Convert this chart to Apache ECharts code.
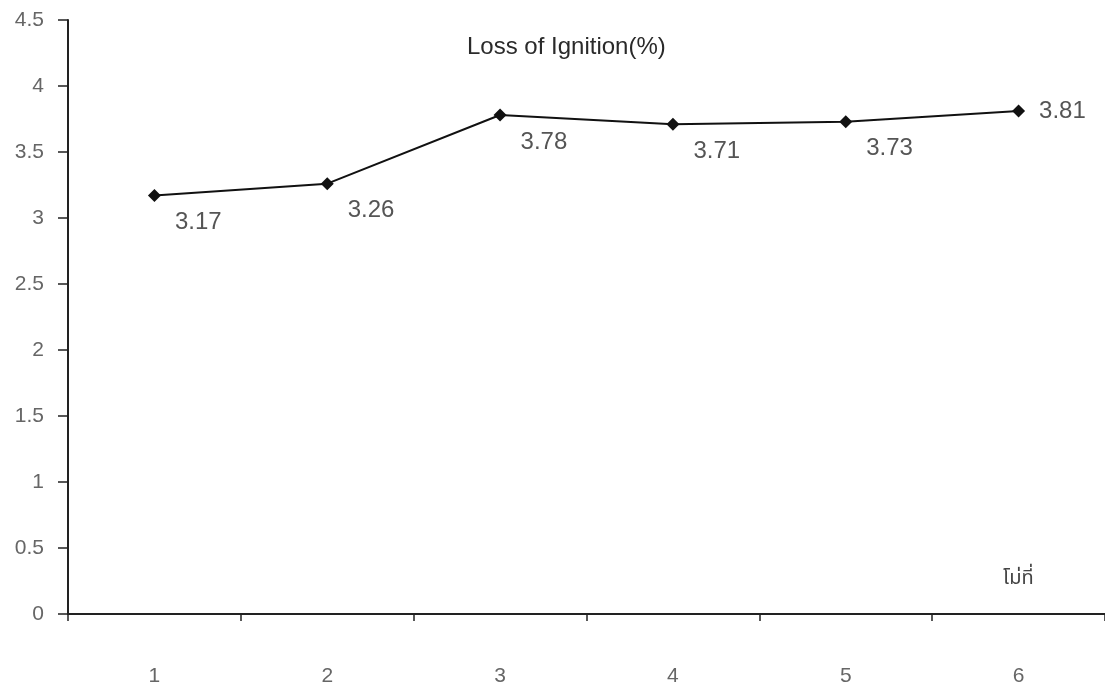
<!DOCTYPE html>
<html>
<head>
<meta charset="utf-8">
<script src="https://cdn.jsdelivr.net/npm/echarts@6/dist/echarts.min.js"></script>
<style>
  html, body { margin: 0; padding: 0; background: #fff; }
  #chart { width: 1105px; height: 688px; }
</style>
</head>
<body>
<div id="chart"></div>
<script>
// Mill number (category) and loss on ignition per mill
const mills = ['1', '2', '3', '4', '5', '6'];
const lossOfIgnition = [3.17, 3.26, 3.78, 3.71, 3.73, 3.81];
const chartTitle = 'Loss of Ignition(%)';
const xAxisName = 'โม่ที่';

const FONT = '"Liberation Sans", Arial, "Noto Sans", sans-serif';

const chart = echarts.init(document.getElementById('chart'), null, { renderer: 'canvas' });

chart.setOption({
  backgroundColor: '#ffffff',
  animation: false,
  title: [
    {
      text: chartTitle,
      left: 462,
      top: 30,
      textStyle: { fontFamily: FONT, fontSize: 24, fontWeight: 'normal', color: '#2a2a2a' }
    },
    {
      text: xAxisName,
      left: 998,
      top: 565,
      textStyle: { fontFamily: '"Noto Sans Thai", "Noto Sans", "DejaVu Sans", sans-serif', fontSize: 20, fontWeight: 'normal', color: '#444' }
    }
  ],
  grid: { left: 68, top: 20, width: 1040, bottom: 74, containLabel: false },
  xAxis: {
    type: 'category',
    data: mills,
    boundaryGap: true,
    axisLine: { lineStyle: { color: '#222', width: 2 } },
    axisTick: { show: true, length: 7, lineStyle: { color: '#222', width: 1.5 } },
    axisLabel: { margin: 52, fontFamily: FONT, fontSize: 21, color: '#666' },
    splitLine: { show: false }
  },
  yAxis: {
    type: 'value',
    min: 0,
    max: 4.5,
    interval: 0.5,
    axisLine: { show: true, lineStyle: { color: '#222', width: 2 } },
    axisTick: { show: true, length: 10, lineStyle: { color: '#222', width: 1.5 } },
    axisLabel: { margin: 24, fontFamily: FONT, fontSize: 21, color: '#666' },
    splitLine: { show: false }
  },
  series: [
    {
      type: 'line',
      data: lossOfIgnition.map((v, i) => ({
        value: v,
        label: i === lossOfIgnition.length - 1 ? { offset: [0, 0] } : undefined
      })),
      symbol: 'diamond',
      symbolSize: 13,
      lineStyle: { color: '#111', width: 2 },
      itemStyle: { color: '#111' },
      label: {
        show: true,
        position: 'right',
        distance: 14,
        offset: [0, 27],
        fontFamily: FONT,
        fontSize: 24,
        color: '#555'
      }
    }
  ]
});
</script>
</body>
</html>
